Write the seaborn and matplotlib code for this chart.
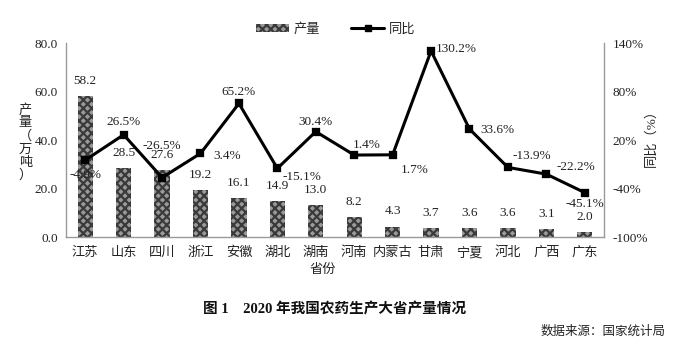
import matplotlib
matplotlib.use("Agg")
import matplotlib.pyplot as plt
import matplotlib.ticker as mticker
from matplotlib.lines import Line2D
from matplotlib.patches import Patch
import seaborn as sns
import pandas as pd

provinces = ["江苏", "山东", "四川", "浙江", "安徽", "湖北", "湖南", "河南",
             "内蒙古", "甘肃", "宁夏", "河北", "广西", "广东"]
output = [58.2, 28.5, 27.6, 19.2, 16.1, 14.9, 13.0, 8.2, 4.3, 3.7, 3.6, 3.6, 3.1, 2.0]
yoy = [-4.9, 26.5, -26.5, 3.4, 65.2, -15.1, 30.4, 1.4, 1.7, 130.2, 33.6, -13.9, -22.2, -45.1]

left_ticks = [0, 20, 40, 60, 80]
right_ticks = [-100, -40, 20, 80, 140]

# label offsets for the growth-rate annotations (points)
yoy_offsets = [(0, -11), (0, 9.5), (0, 23), (19, -1.5), (0, 8), (18, -6), (0, 7), (9, 7),
               (16, -11), (18, 1.5), (20, -1), (17, 8), (21, 5), (0, -8)]

sns.set_theme(style="white")
fam = ["Liberation Serif", "Noto Sans CJK SC"]
plt.rcParams["font.family"] = fam
plt.rcParams["hatch.linewidth"] = 1.6

df = pd.DataFrame({"省份": provinces, "产量": output, "同比": yoy})

fig = plt.figure(figsize=(6.89, 3.47), dpi=100)
ax = fig.add_axes([0.0958, 0.317, 0.7808, 0.559])

sns.barplot(data=df, x="省份", y="产量", ax=ax, color="#9a9a9a", width=0.4,
            saturation=1, linewidth=0)
for bar in ax.patches:
    bar.set_hatch("xxxx")
    bar.set_edgecolor("#3a3a3a")
    bar.set_linewidth(0)

ax.set_ylim(0, 80)
ax.set_yticks(left_ticks)
ax.yaxis.set_major_formatter(mticker.FormatStrFormatter("%.1f"))
ax.set_xlim(-0.5, 13.5)
ax.tick_params(axis="both", length=0, labelsize=9.5, colors="#222222")
ax.tick_params(axis="x", pad=7)
ax.tick_params(axis="y", pad=6)
ax.set_xlabel("省份", fontsize=9.5, color="#222222")
ax.xaxis.set_label_coords(0.478, -0.14)
ax.set_ylabel("")
for s in ["top", "right"]:
    ax.spines[s].set_visible(False)
for s in ["left", "bottom"]:
    ax.spines[s].set_color("#9a9a9a")
    ax.spines[s].set_linewidth(1.0)

for i, v in enumerate(output):
    ax.annotate(f"{v:.1f}", (i, v), xytext=(0, 11), textcoords="offset points",
                ha="center", va="center", fontsize=9.5, color="#222222")

ax2 = ax.twinx()
sns.pointplot(data=df, x="省份", y="同比", ax=ax2, color="black", markers="s",
              markersize=5, linewidth=2.2, errorbar=None)
ax2.set_ylim(-100, 140)
ax2.set_yticks(right_ticks)
ax2.yaxis.set_major_formatter(mticker.FuncFormatter(lambda v, p: f"{v:.0f}%"))
ax2.set_xlim(-0.5, 13.5)
ax2.tick_params(axis="y", length=0, labelsize=9.5, colors="#222222", pad=6)
ax2.set_ylabel("")
ax2.set_xlabel("")
for s in ["top", "left", "bottom"]:
    ax2.spines[s].set_visible(False)
ax2.spines["right"].set_color("#9a9a9a")
ax2.spines["right"].set_linewidth(1.0)

for i, (v, off) in enumerate(zip(yoy, yoy_offsets)):
    ax2.annotate(f"{v:.1f}%", (i, v), xytext=off, textcoords="offset points",
                 ha="center", va="center", fontsize=9.5, color="#222222")

# axis titles
fig.text(0.037, 0.475, "产\n量\n（\n万\n吨\n）", fontsize=9.5, color="#222222",
         ha="center", va="bottom", linespacing=1.1)
fig.text(0.945, 0.61, "同比（%）", fontsize=9.5, color="#222222",
         ha="center", va="center", rotation=90)

# legend
handles = [Patch(facecolor="#9a9a9a", edgecolor="#3a3a3a", hatch="xxxx", linewidth=0),
           Line2D([0], [0], color="black", lw=2.2, marker="s", markersize=5)]
fig.legend(handles, ["产量", "同比"], loc="center", bbox_to_anchor=(0.487, 0.916),
           ncol=2, frameon=False, fontsize=9.5, handlelength=2.5, handleheight=0.6,
           columnspacing=2.4, handletextpad=0.35)

fig.text(0.485, 0.107, "图 1    2020 年我国农药生产大省产量情况", fontsize=10.5,
         ha="center", va="center", color="#111111", fontweight="bold")
fig.text(0.966, 0.043, "数据来源：国家统计局", fontsize=9,
         ha="right", va="center", color="#222222")

fig.savefig("out.png", dpi=100, facecolor="white")
